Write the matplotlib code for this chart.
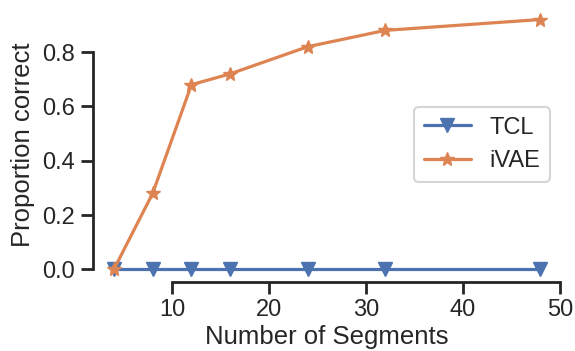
import matplotlib
matplotlib.use("Agg")
import matplotlib.pyplot as plt
import seaborn as sns

segments = [4, 8, 12, 16, 24, 32, 48]
tcl = [0.0, 0.0, 0.0, 0.0, 0.0, 0.0, 0.0]
ivae = [0.0, 0.28, 0.68, 0.72, 0.82, 0.88, 0.92]

sns.set_theme(style="ticks", context="talk")
plt.rcParams['font.family'] = ['Liberation Sans', 'DejaVu Sans']

fig = plt.figure(figsize=(5.75, 3.51), dpi=100)
ax = fig.add_axes([0.161, 0.197, 0.816, 0.783])
pal = sns.color_palette("deep")
ax.plot(segments, tcl, marker="v", color=pal[0], lw=2.3, ms=9.5, label="TCL")
ax.plot(segments, ivae, marker="*", color=pal[1], lw=2.3, ms=10.5, label="iVAE")
ax.set_xticks([10, 20, 30, 40, 50])
ax.set_yticks([0.0, 0.2, 0.4, 0.6, 0.8])
ax.set_xlabel("Number of Segments", fontsize=18.5, labelpad=2.5)
ax.set_ylabel("Proportion correct", fontsize=18.5, labelpad=5)
ax.tick_params(labelsize=17, length=8.5, width=2, pad=4)
for s in ax.spines.values():
    s.set_linewidth(2)
ax.legend(loc="center right", fontsize=17)
sns.despine(ax=ax, trim=True)
fig.savefig("out.png", dpi=100)
